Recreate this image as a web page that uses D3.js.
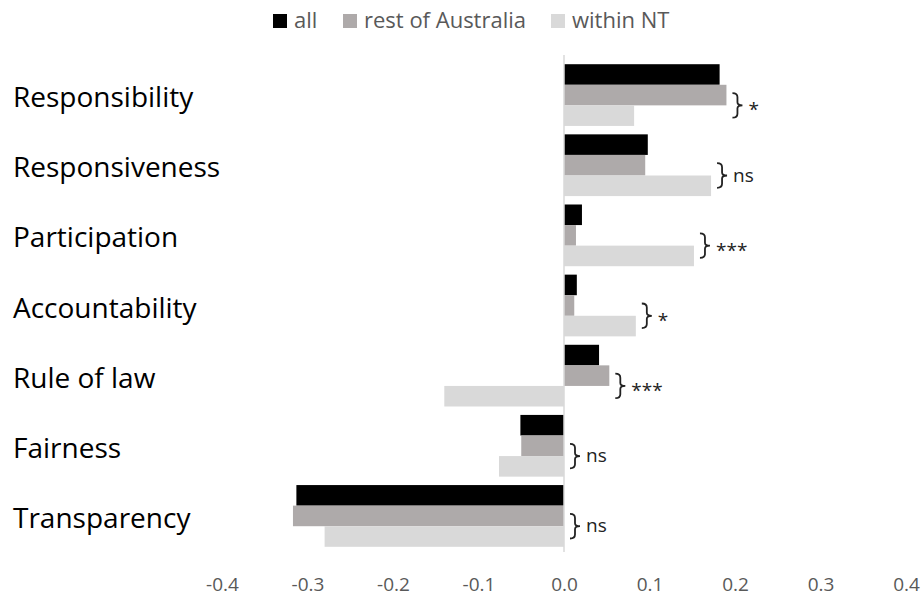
<!DOCTYPE html>
<html><head><meta charset="utf-8">
<script src="https://cdn.jsdelivr.net/npm/d3@7"></script>
<style>body{margin:0;background:#fff}svg{display:block}</style>
</head><body><svg id="c" width="922" height="598"></svg>
<script>
const categories = ["Responsibility","Responsiveness","Participation","Accountability","Rule of law","Fairness","Transparency"];
const seriesNames = ["all","rest of Australia","within NT"];
const allVals  = [0.182, 0.098, 0.021, 0.015, 0.041, -0.051, -0.313];
const restVals = [0.190, 0.095, 0.014, 0.012, 0.053, -0.050, -0.317];
const ntVals   = [0.082, 0.172, 0.152, 0.084, -0.140, -0.076, -0.280];
const sigLabels = ["*","ns","***","*","***","ns","ns"];
const xTicks = [-0.4,-0.3,-0.2,-0.1,0.0,0.1,0.2,0.3,0.4];
const colors = ["#000000","#AEAAAA","#D9D9D9"];

const series = [allVals, restVals, ntVals];
const svg = d3.select("#c");
const font = "'Open Sans', Lato, sans-serif";

const x = d3.scaleLinear().domain([-0.4,0.4]).range([222,906]);
const y = d3.scaleBand().domain(categories).range([60,551]).paddingInner(0.12).paddingOuter(0.06);
const sub = d3.scaleBand().domain(d3.range(3)).range([0,y.bandwidth()]);

// bars
categories.forEach((c,i)=>{
  series.forEach((s,j)=>{
    const v = s[i];
    svg.append("rect")
      .attr("x", x(Math.min(0,v)))
      .attr("width", Math.abs(x(v)-x(0)))
      .attr("y", y(c)+sub(j))
      .attr("height", sub.bandwidth())
      .attr("fill", colors[j]);
  });
});

// zero line
svg.append("line").attr("x1",x(0)).attr("x2",x(0)).attr("y1",55).attr("y2",552)
  .attr("stroke","#D9D9D9").attr("stroke-width",1.5);

// x axis tick labels (hyphen minus like the original)
const fmt = d => d3.format(".1f")(d).replace("\u2212","-");
const xAxis = d3.axisBottom(x).tickValues(xTicks).tickFormat(fmt).tickSize(0);
const gx = svg.append("g").attr("transform","translate(0,591)").call(xAxis);
gx.select(".domain").remove();
gx.selectAll("text").attr("font-family",font).attr("font-size",19).attr("fill","#595959")
  .attr("y",0).attr("dy",0);

// category labels
svg.selectAll(".cat").data(categories).enter().append("text")
  .attr("x",13).attr("y",d=>y(d)+y.bandwidth()/2+12)
  .attr("font-family",font).attr("font-size",28).attr("fill","#000")
  .text(d=>d);

// significance brackets
categories.forEach((c,i)=>{
  const maxEnd = Math.max(0, allVals[i], restVals[i], ntVals[i]);
  const bx = x(maxEnd) + 6;
  const y1 = y(c)+sub(1)+sub.bandwidth()/2 - 2;
  const y2 = y(c)+sub(2)+sub.bandwidth()/2 + 2;
  const ym = (y1+y2)/2;
  const path = `M${bx},${y1} Q${bx+5},${y1} ${bx+5},${y1+4} L${bx+5},${ym-3} Q${bx+5},${ym} ${bx+10},${ym} Q${bx+5},${ym} ${bx+5},${ym+3} L${bx+5},${y2-4} Q${bx+5},${y2} ${bx},${y2}`;
  svg.append("path").attr("d",path).attr("fill","none").attr("stroke","#222").attr("stroke-width",1.8);
  const isNs = sigLabels[i]==="ns";
  svg.append("text").attr("x",bx+16).attr("y", isNs ? ym+6 : ym+11)
    .attr("font-family",font).attr("font-size",19).attr("fill","#222")
    .text(sigLabels[i]);
});

// legend
const legX = [273,343,551];
seriesNames.forEach((n,j)=>{
  svg.append("rect").attr("x",legX[j]).attr("y",14).attr("width",14).attr("height",14).attr("fill",colors[j]);
  svg.append("text").attr("x",legX[j]+21).attr("y",28)
    .attr("font-family",font).attr("font-size",22).attr("fill","#595959").text(n);
});
</script></body></html>
